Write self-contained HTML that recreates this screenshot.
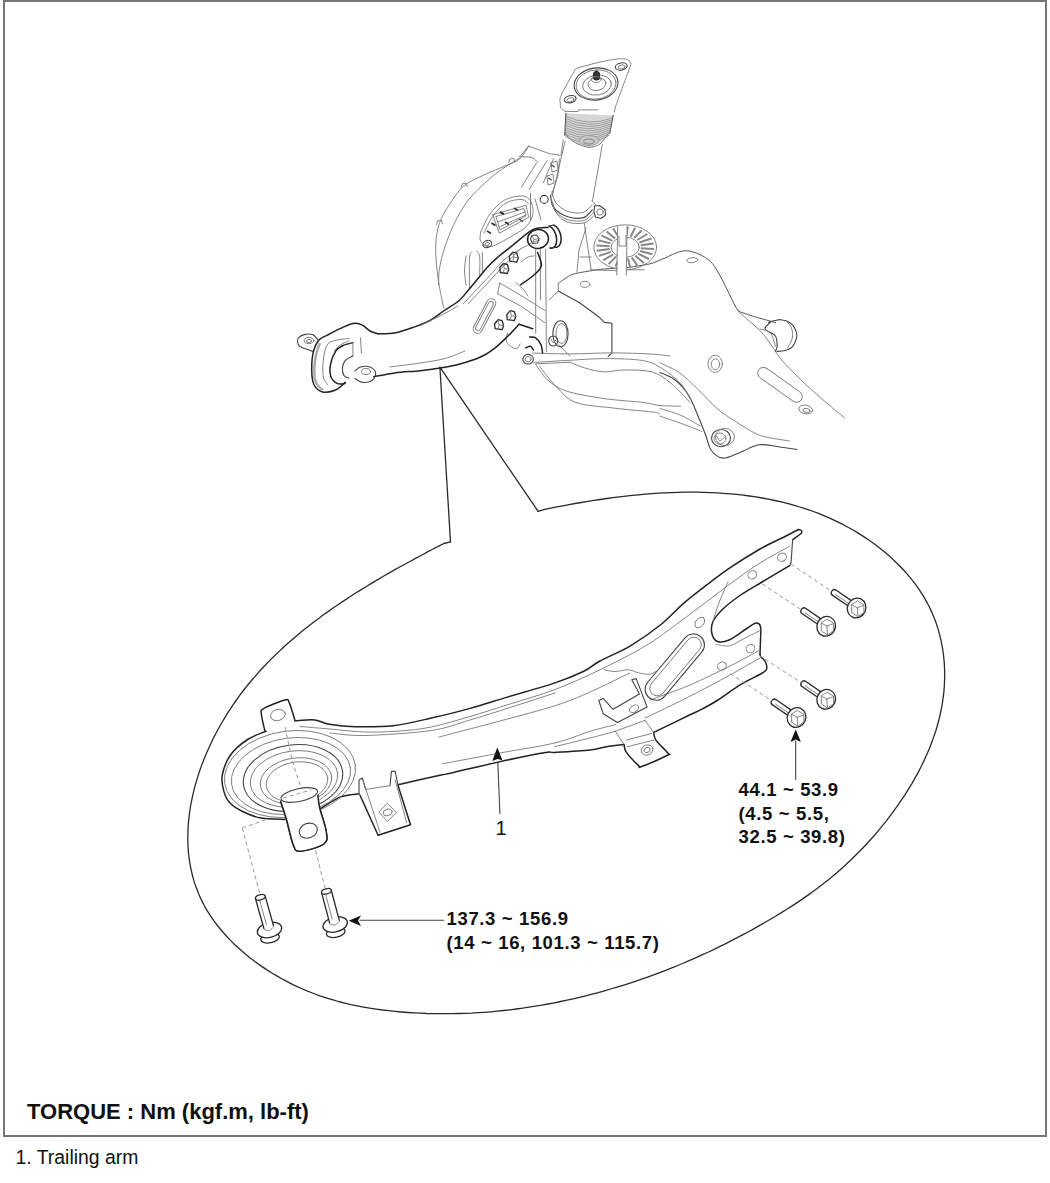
<!DOCTYPE html>
<html><head><meta charset="utf-8">
<style>
html,body{margin:0;padding:0;background:#fff;}
body{width:1050px;height:1183px;position:relative;overflow:hidden;font-family:"Liberation Sans",sans-serif;}
.box{position:absolute;left:3px;top:0;width:1040px;height:1133px;border:2px solid #767676;}
svg{position:absolute;left:0;top:0;}
.k{fill:none;stroke:#2a2a2a;stroke-width:1.3;stroke-linejoin:round;stroke-linecap:round;}
.K{fill:none;stroke:#222;stroke-width:1.5;stroke-linejoin:round;stroke-linecap:round;}
.m{fill:none;stroke:#444;stroke-width:1.1;stroke-linejoin:round;stroke-linecap:round;}
.t{fill:none;stroke:#777;stroke-width:0.9;stroke-linejoin:round;stroke-linecap:round;}
.n{fill:none;stroke:#555;stroke-width:1;stroke-linejoin:round;stroke-linecap:round;}
.d{fill:none;stroke:#999;stroke-width:1;stroke-dasharray:4 3;}
.f{fill:#fff;}
.f2{fill:#fff !important;}
.txt{position:absolute;white-space:nowrap;color:#111;font-weight:bold;}
.reg{font-weight:normal;}
</style></head><body>
<div class="box"></div>
<svg width="1050" height="1183" viewBox="0 0 1050 1183">
<path class="k" d="M450.5,541.9 L443.8,543.5 L438.2,546.4 L432.7,549.3 L427.1,552.2 L421.6,555.2 L416.0,558.1 L410.4,561.2 L404.8,564.2 L399.2,567.3 L393.6,570.4 L388.1,573.6 L382.5,576.8 L376.9,580.1 L371.4,583.4 L365.9,586.7 L360.4,590.1 L354.9,593.5 L349.5,597.0 L344.1,600.6 L338.7,604.2 L333.4,607.8 L328.1,611.6 L322.8,615.3 L317.6,619.2 L312.5,623.1 L307.4,627.1 L302.3,631.1 L297.3,635.2 L292.4,639.4 L287.6,643.6 L282.8,648.0 L278.1,652.4 L273.5,656.8 L268.9,661.4 L264.4,666.0 L260.0,670.8 L255.8,675.6 L251.5,680.5 L247.4,685.5 L243.4,690.5 L239.5,695.7 L235.7,701.0 L232.0,706.3 L228.4,711.8 L225.0,717.3 L221.6,723.0 L218.4,728.7 L215.3,734.5 L212.3,740.4 L209.5,746.4 L206.8,752.4 L204.3,758.5 L201.9,764.6 L199.7,770.7 L197.7,776.9 L195.8,783.2 L194.1,789.4 L192.7,795.7 L191.3,802.0 L190.2,808.3 L189.3,814.6 L188.6,820.8 L188.1,827.1 L187.9,833.4 L187.8,839.6 L188.0,845.8 L188.4,851.9 L189.1,858.0 L190.0,864.1 L191.2,870.1 L192.6,876.0 L194.2,881.9 L196.2,887.6 L198.4,893.3 L200.9,898.9 L203.7,904.5 L206.7,909.9 L210.0,915.2 L213.6,920.4 L217.4,925.5 L221.5,930.5 L225.7,935.3 L230.2,940.1 L234.8,944.7 L239.7,949.1 L244.7,953.5 L249.9,957.7 L255.2,961.7 L260.6,965.6 L266.2,969.4 L271.9,973.0 L277.7,976.4 L283.5,979.7 L289.5,982.8 L295.5,985.8 L301.5,988.5 L307.6,991.1 L313.7,993.5 L319.9,995.8 L326.0,997.8 L332.2,999.7 L338.4,1001.5 L344.7,1003.1 L350.9,1004.6 L357.2,1005.9 L363.5,1007.1 L369.8,1008.2 L376.1,1009.1 L382.5,1010.0 L388.8,1010.7 L395.2,1011.4 L401.5,1012.0 L407.9,1012.5 L414.3,1012.9 L420.6,1013.2 L427.0,1013.5 L433.4,1013.6 L439.8,1013.7 L446.2,1013.7 L452.5,1013.7 L458.9,1013.5 L465.3,1013.3 L471.7,1013.1 L478.1,1012.7 L484.5,1012.3 L490.9,1011.8 L497.2,1011.2 L503.6,1010.5 L510.0,1009.8 L516.4,1009.0 L522.7,1008.2 L529.1,1007.2 L535.4,1006.2 L541.7,1005.2 L548.1,1004.0 L554.4,1002.8 L560.7,1001.5 L567.0,1000.2 L573.3,998.8 L579.6,997.3 L585.8,995.8 L592.1,994.2 L598.3,992.6 L604.5,990.8 L610.7,989.0 L616.9,987.2 L623.1,985.3 L629.2,983.3 L635.4,981.3 L641.5,979.2 L647.6,977.1 L653.7,974.9 L659.7,972.6 L665.8,970.3 L671.8,967.9 L677.8,965.5 L683.7,963.0 L689.7,960.4 L695.6,957.9 L701.5,955.2 L707.4,952.5 L713.2,949.8 L719.0,946.9 L724.8,944.1 L730.5,941.2 L736.3,938.2 L742.0,935.2 L747.6,932.2 L753.3,929.1 L758.9,925.9 L764.4,922.8 L770.0,919.5 L775.5,916.3 L781.0,912.9 L786.4,909.5 L791.8,906.1 L797.1,902.6 L802.4,899.1 L807.6,895.4 L812.7,891.7 L817.8,888.0 L822.9,884.1 L827.8,880.2 L832.7,876.2 L837.6,872.1 L842.3,867.9 L847.0,863.6 L851.6,859.3 L856.1,854.8 L860.6,850.3 L865.0,845.7 L869.3,841.0 L873.6,836.2 L877.8,831.3 L881.9,826.4 L886.0,821.3 L889.9,816.2 L893.8,810.9 L897.6,805.6 L901.3,800.2 L905.0,794.8 L908.5,789.2 L911.9,783.6 L915.1,777.9 L918.3,772.1 L921.3,766.3 L924.1,760.4 L926.8,754.5 L929.4,748.5 L931.7,742.4 L933.9,736.4 L936.0,730.2 L937.8,724.0 L939.4,717.8 L940.8,711.5 L942.0,705.3 L943.0,698.9 L943.8,692.6 L944.3,686.2 L944.6,679.8 L944.7,673.4 L944.5,667.1 L944.1,660.7 L943.4,654.4 L942.5,648.1 L941.3,641.9 L939.9,635.7 L938.2,629.6 L936.3,623.6 L934.1,617.7 L931.7,611.9 L929.0,606.2 L926.0,600.6 L922.8,595.2 L919.3,589.8 L915.7,584.6 L911.8,579.6 L907.7,574.6 L903.4,569.8 L899.0,565.2 L894.4,560.7 L889.6,556.3 L884.7,552.1 L879.6,548.0 L874.4,544.0 L869.1,540.2 L863.7,536.6 L858.2,533.1 L852.7,529.8 L847.0,526.7 L841.3,523.7 L835.5,520.8 L829.7,518.2 L823.8,515.6 L817.9,513.2 L811.9,511.0 L805.8,508.9 L799.7,507.0 L793.5,505.1 L787.4,503.4 L781.1,501.9 L774.8,500.5 L768.5,499.2 L762.2,498.0 L755.8,496.9 L749.4,496.0 L743.0,495.1 L736.5,494.4 L730.1,493.8 L723.6,493.3 L717.1,492.9 L710.6,492.6 L704.0,492.3 L697.5,492.2 L691.0,492.2 L684.4,492.2 L677.9,492.4 L671.3,492.6 L664.8,492.9 L658.3,493.2 L651.7,493.7 L645.2,494.2 L638.7,494.8 L632.3,495.4 L625.8,496.1 L619.4,496.9 L613.0,497.7 L606.6,498.5 L600.2,499.5 L593.9,500.4 L587.6,501.4 L581.4,502.5 L575.1,503.5 L569.0,504.6 L562.9,505.8 L556.8,506.9 L550.8,508.1 L544.8,509.4 L538.1,511.3"/>
<path class="k" d="M450.5,541.9 L439.9,367.2 L538.1,511.3"/>
<path class="K" d="M295.0,720.7 C298.3,720.6 309.3,719.4 315.0,720.0 C320.7,720.6 322.6,723.2 329.3,724.3 C336.0,725.4 344.4,726.5 355.0,726.7 C365.6,726.9 380.4,727.1 393.1,725.7 C405.8,724.3 418.5,721.0 431.2,718.1 C443.9,715.2 456.6,712.1 469.3,708.6 C482.0,705.1 493.1,701.4 507.4,697.1 C521.7,692.8 542.3,687.2 555.0,682.9 C567.7,678.6 576.3,674.9 583.8,671.3 C591.3,667.6 592.2,665.2 600.0,661.0 C607.8,656.8 620.3,651.9 630.5,645.8 C640.7,639.7 652.1,631.6 661.0,624.5 C669.9,617.4 676.2,609.7 683.8,603.1 C691.4,596.5 699.1,590.7 706.7,584.9 C714.3,579.1 720.6,574.1 729.5,568.1 C738.4,562.1 750.8,554.3 760.0,549.0 C769.2,543.7 778.6,539.8 785.0,536.5 C791.4,533.2 796.2,530.7 798.5,529.5"/>
<path class="K" d="M798.5,529.5 C799.0,529.7 801.1,529.8 801.5,530.5 C801.9,531.2 802.5,532.0 801.0,533.5 C799.5,535.0 794.0,538.8 792.6,539.8"/>
<path class="m" d="M792.6,539.8 L791.1,562.6 L789.6,565.7"/>
<path class="K" d="M789.6,565.7 C785.0,568.4 770.3,577.0 762.0,582.0 C753.7,587.0 746.4,591.1 740.0,595.5 C733.6,599.9 728.0,604.2 723.5,608.5 C719.0,612.8 714.9,617.2 713.0,621.5 C711.1,625.8 711.2,630.7 712.0,634.0 C712.8,637.3 714.7,640.5 717.5,641.5 C720.3,642.5 724.2,642.1 729.0,640.0 C733.8,637.9 741.6,631.8 746.0,629.0 C750.4,626.2 753.1,623.6 755.5,623.2 C757.9,622.8 759.7,623.7 760.5,626.5 C761.3,629.3 760.6,635.4 760.5,640.0 C760.4,644.6 760.1,651.7 760.0,654.0"/>
<path class="K" d="M760.0,654.0 C760.2,654.5 760.1,655.8 761.0,657.0 C761.9,658.2 764.2,659.7 765.2,661.5 C766.2,663.3 767.0,665.8 766.7,667.6 C766.5,669.4 768.0,669.4 763.7,672.2 C759.4,675.0 748.5,679.8 740.9,684.4 C733.3,689.0 724.8,695.7 718.0,700.0 C711.2,704.3 704.7,707.7 700.0,710.2 C695.3,712.7 697.7,711.1 690.0,714.8 C682.3,718.5 659.8,729.5 653.7,732.4"/>
<path class="K" d="M624.0,744.5 C621.1,744.9 612.2,745.8 606.5,746.7 C600.8,747.6 598.6,749.0 590.0,750.0 C581.4,751.0 562.4,752.0 555.0,752.4 C547.6,752.8 553.4,751.1 545.5,752.4 C537.6,753.7 523.3,756.5 507.4,760.0 C491.5,763.5 461.4,770.8 450.2,773.3 C439.0,775.8 448.7,773.3 440.0,775.2 C431.3,777.1 405.1,783.2 398.1,784.8"/>
<path class="K" d="M359.0,793.8 C355.8,794.3 346.4,794.6 340.0,797.1 C333.6,799.6 323.9,806.7 320.7,808.6"/>
<path class="t" d="M300.0,726.5 C305.0,726.9 319.2,728.1 330.0,729.0 C340.8,729.9 353.3,731.7 365.0,732.0 C376.7,732.3 389.0,731.8 400.0,731.0 C411.0,730.2 419.5,729.4 431.2,727.0 C442.9,724.6 456.9,720.3 470.0,716.5 C483.1,712.7 495.8,708.5 510.0,704.0 C524.2,699.5 539.9,695.2 555.0,689.5 C570.1,683.8 585.4,676.8 600.5,669.5 C615.6,662.2 633.1,653.3 645.7,645.8 C658.3,638.3 666.0,631.9 676.2,624.5 C686.4,617.1 696.6,609.2 706.7,601.6 C716.9,594.0 728.2,585.2 737.1,578.8 C746.0,572.4 751.2,568.5 760.0,563.0 C768.8,557.5 785.0,548.8 790.0,546.0"/>
<path class="t" d="M330.0,733.0 C335.8,733.4 348.1,735.9 365.0,735.5 C381.9,735.1 413.7,733.1 431.2,730.5 C448.7,727.9 456.9,723.8 470.0,720.0 C483.1,716.2 495.8,712.0 510.0,707.5 C524.2,703.0 547.5,695.4 555.0,693.0"/>
<path class="t" d="M438.8,737.1 C449.0,734.4 480.6,726.2 500.0,721.0 C519.4,715.8 540.0,710.5 555.0,705.7 C570.0,700.9 577.6,697.4 590.0,692.0 C602.4,686.6 623.0,676.2 629.6,673.1"/>
<path class="t" d="M442.6,763.8 C452.2,762.0 481.3,756.5 500.0,753.0 C518.7,749.5 540.0,746.5 555.0,742.9 C570.0,739.3 580.0,734.3 590.0,731.3 C600.0,728.3 611.1,725.8 615.3,724.7"/>
<path class="t" d="M555.0,746.6 C560.8,745.2 580.0,740.5 590.0,738.0 C600.0,735.5 611.1,732.4 615.3,731.3"/>
<path class="t" d="M645.0,718.1 C652.5,714.5 675.8,703.4 690.0,696.2 C704.2,689.0 718.3,681.4 730.0,675.0 C741.7,668.6 755.0,660.8 760.0,658.0"/>
<path class="t" d="M650.0,700.0 C656.7,697.5 676.7,690.7 690.0,685.0 C703.3,679.3 718.3,671.8 730.0,666.0 C741.7,660.2 755.0,652.7 760.0,650.0"/>
<path class="t" d="M604.3,669.8 C606.1,670.1 611.0,671.5 615.0,671.5 C619.0,671.5 624.4,669.5 628.5,669.8 C632.6,670.1 635.9,672.4 639.5,673.1 C643.1,673.8 647.6,674.6 650.4,674.2 C653.1,673.9 655.1,671.5 656.0,671.0"/>
<ellipse class="t" cx="782.0" cy="557.3" rx="4.5" ry="4.0" transform="rotate(-30 782.0 557.3)"/>
<ellipse class="t" cx="752.3" cy="574.8" rx="4.5" ry="4.0" transform="rotate(-30 752.3 574.8)"/>
<ellipse class="t" cx="750.5" cy="648.6" rx="4.5" ry="4.0" transform="rotate(-30 750.5 648.6)"/>
<ellipse class="t" cx="721.9" cy="666.1" rx="4.5" ry="4.0" transform="rotate(-30 721.9 666.1)"/>
<ellipse class="t" cx="699.8" cy="622.5" rx="6.0" ry="4.0" transform="rotate(-50 699.8 622.5)"/>
<path class="t" d="M728.0,581.8 C726.5,585.3 721.4,596.5 718.9,603.1 C716.4,609.7 713.8,618.4 712.8,621.4"/>
<path class="t" d="M715.8,644.3 C718.1,644.5 724.6,646.8 729.5,645.8 C734.4,644.8 739.9,640.5 745.0,638.0 C750.1,635.5 757.5,631.8 760.0,630.6"/>
<rect class="m" x="634.8" y="656.1" width="80.0" height="22.0" rx="11.0" ry="11.0" transform="rotate(-50 674.8 667.1)"/>
<rect class="t" x="639.5" y="659.0" width="72.0" height="15.0" rx="7.5" ry="7.5" transform="rotate(-50 675.5 666.5)"/>
<path class="m" d="M598.8,700.5 L603.2,698.4 L613.1,709.3 L639.5,694.0 L631.8,679.7 L636.2,678.6 L647.1,707.1 L617.5,722.5 L603.2,713.7 L598.8,700.5"/>
<ellipse class="t" cx="634.0" cy="708.8" rx="5.0" ry="3.2" transform="rotate(-30 634.0 708.8)"/>
<path class="K" d="M653.7,732.4 C654.1,733.7 653.5,736.6 655.9,740.1 C658.3,743.6 666.2,750.7 668.0,753.3 C669.8,755.9 671.3,753.3 666.9,755.5 C662.5,757.7 646.4,764.9 641.6,766.5 C636.9,768.1 641.0,767.8 638.4,765.4 C635.8,763.0 628.7,755.7 626.3,752.2 C623.9,748.7 624.4,745.8 624.0,744.5"/>
<path class="t" d="M615.3,731.3 L645.0,720.3"/>
<path class="t" d="M615.3,731.3 L624.0,744.5"/>
<path class="t" d="M645.0,720.3 L653.7,732.4"/>
<path class="t" d="M626.3,740.1 L651.5,733.5"/>
<path class="t" d="M627.4,746.7 L653.7,740.1"/>
<ellipse class="t" cx="647.1" cy="750.0" rx="6.0" ry="5.0" transform="rotate(-20 647.1 750.0)"/>
<ellipse class="t" cx="647.1" cy="750.0" rx="3.2" ry="2.5" transform="rotate(-20 647.1 750.0)"/>
<path class="K" d="M265.0,731.4 C264.4,728.5 261.6,718.1 261.4,714.3 C261.2,710.5 259.7,711.0 263.6,708.6 C267.5,706.2 280.7,701.0 285.0,700.0 C289.3,699.0 287.6,699.4 289.3,702.9 C291.0,706.4 294.1,717.7 295.0,720.7"/>
<ellipse class="t" cx="277.9" cy="715.0" rx="7.5" ry="5.5" transform="rotate(-15 277.9 715.0)"/>
<path class="K" d="M266.0,731.2 C262.9,732.6 253.5,735.6 247.6,739.5 C241.7,743.4 234.9,748.8 230.7,754.7 C226.5,760.6 223.4,768.8 222.3,775.0 C221.2,781.2 222.6,787.1 224.0,791.9 C225.4,796.7 227.3,800.3 230.7,803.7 C234.1,807.1 239.1,809.8 244.2,812.2 C249.3,814.6 254.3,816.9 261.1,818.1 C267.9,819.3 281.0,819.3 285.0,819.5"/>
<ellipse class="t" cx="290.0" cy="774.0" rx="66.0" ry="43.0" transform="rotate(-8 290.0 774.0)"/>
<ellipse class="t" cx="291.0" cy="776.0" rx="60.0" ry="38.0" transform="rotate(-8 291.0 776.0)"/>
<ellipse class="m" cx="293.0" cy="778.0" rx="50.0" ry="33.0" transform="rotate(-8 293.0 778.0)"/>
<ellipse class="t" cx="294.0" cy="779.0" rx="44.0" ry="28.0" transform="rotate(-8 294.0 779.0)"/>
<ellipse class="t" cx="296.0" cy="781.0" rx="36.0" ry="23.0" transform="rotate(-8 296.0 781.0)"/>
<ellipse class="t" cx="297.0" cy="782.0" rx="31.0" ry="20.0" transform="rotate(-8 297.0 782.0)"/>
<path class="K" d="M280.7,801.4 C281.6,804.3 284.2,811.6 286.3,818.7 C288.4,825.8 290.8,838.6 293.0,844.0 C295.2,849.4 294.6,851.3 299.7,851.3 C304.8,851.3 319.3,847.2 323.7,844.0 C328.1,840.8 327.0,838.0 326.3,832.0 C325.6,826.0 321.1,814.0 319.7,808.0 C318.3,802.0 318.2,797.8 317.9,795.7"/>
<path class="f" d="M280.7,801.4 C281.6,804.3 284.2,811.6 286.3,818.7 C288.4,825.8 290.8,838.6 293.0,844.0 C295.2,849.4 294.6,851.3 299.7,851.3 C304.8,851.3 319.3,847.2 323.7,844.0 C328.1,840.8 327.0,838.0 326.3,832.0 C325.6,826.0 321.1,814.0 319.7,808.0 C318.3,802.0 321.3,798.7 317.9,795.7 C314.4,792.7 302.1,791.0 299.0,790.0 Z" />
<path class="K" d="M280.7,801.4 C281.6,804.3 284.2,811.6 286.3,818.7 C288.4,825.8 290.8,838.6 293.0,844.0 C295.2,849.4 294.6,851.3 299.7,851.3 C304.8,851.3 319.3,847.2 323.7,844.0 C328.1,840.8 327.0,838.0 326.3,832.0 C325.6,826.0 321.1,814.0 319.7,808.0 C318.3,802.0 318.2,797.8 317.9,795.7"/>
<ellipse class="m" cx="299.3" cy="795.0" rx="18.6" ry="6.4" transform="rotate(-12 299.3 795.0)"/>
<ellipse class="m" cx="308.3" cy="830.7" rx="9.3" ry="7.3" transform="rotate(-20 308.3 830.7)"/>
<path class="d" d="M285.0,727.0 L292.0,760.0 L300.7,787.0"/>
<path class="d" d="M283.0,798.0 L311.0,790.0"/>
<path class="d" d="M242.3,828.0 L265.0,820.0"/>
<path class="d" d="M242.3,828.0 L259.7,893.3"/>
<path class="d" d="M315.7,850.7 L325.0,888.0"/>
<path class="f" d="M359,779 L362.4,778.1 L365.7,789.5 L390,785.7 L391.4,771.4 L395.2,771.4 L398.1,785.7 L410.5,824.8 L378.1,835.2 L360,795.2 Z"/>
<path class="m" d="M359.0,794.3 L359.0,780.0 L362.4,778.1 L365.7,789.5"/>
<path class="K" d="M360.0,795.2 L378.1,835.2 L410.5,824.8 L398.1,785.7"/>
<path class="m" d="M390.0,785.7 L391.4,771.4 L395.2,771.4 L398.1,785.7"/>
<path class="t" d="M365.7,789.5 L389.5,785.7"/>
<path class="t" d="M362.9,780.0 L380.0,832.4"/>
<path class="t" d="M395.2,780.0 L406.7,822.9"/>
<path class="t" d="M387.6,803.4 L396.2,812.4 L387.6,821.4 L379.0,812.4 Z"/>
<ellipse class="t" cx="387.6" cy="812.4" rx="4.5" ry="3.2" transform="rotate(-15 387.6 812.4)"/>
<ellipse class="k f2" cx="270.0" cy="938.0" rx="9.5" ry="4.8" transform="rotate(-12 270.0 938.0)"/>
<ellipse class="k f2" cx="269.5" cy="930.0" rx="12.4" ry="7.4" transform="rotate(-14 269.5 930.0)"/>
<path class="f" d="M255.5,898.7 L263.9,928.5 L273.5,925.8 L265.1,895.9 Z"/>
<path class="k" d="M255.5,898.7 L263.9,928.5"/>
<path class="k" d="M265.1,895.9 L273.5,925.8"/>
<ellipse class="k f2" cx="260.3" cy="897.3" rx="5.0" ry="2.6" transform="rotate(164.28628815580868 260.3 897.3)"/>
<path class="t" d="M259.7,900.6 L266.4,924.6"/>
<path class="t" d="M273.8,926.7 C273.0,927.4 270.8,930.1 269.2,930.5 C267.6,931.0 265.0,929.6 264.1,929.4"/>
<ellipse class="k f2" cx="335.7" cy="932.5" rx="9.5" ry="4.8" transform="rotate(-12 335.7 932.5)"/>
<ellipse class="k f2" cx="335.2" cy="924.5" rx="12.4" ry="7.4" transform="rotate(-14 335.2 924.5)"/>
<path class="f" d="M321.6,892.6 L329.6,922.9 L339.3,920.3 L331.2,890.0 Z"/>
<path class="k" d="M321.6,892.6 L329.6,922.9"/>
<path class="k" d="M331.2,890.0 L339.3,920.3"/>
<ellipse class="k f2" cx="326.4" cy="891.3" rx="5.0" ry="2.6" transform="rotate(165.1545479179162 326.4 891.3)"/>
<path class="t" d="M325.7,894.6 L332.2,919.1"/>
<path class="t" d="M339.5,921.3 C338.8,921.9 336.6,924.6 334.9,925.0 C333.3,925.5 330.7,924.0 329.9,923.8"/>
<path class="m" d="M360.0,920.2 L443.8,920.2"/>
<path d="M348.7,920.7 L361,915.5 L358,920.5 L361,926 Z" fill="#111"/>
<path class="k f2" d="M850.7,607.7 L832.7,595.4 A3.1,3.1 0 0 1 836.3,590.2 L854.2,602.6"/>
<path class="t" d="M835.7,594.6 L850.4,604.7"/>
<ellipse class="k f2" cx="856.6" cy="608.0" rx="9.2" ry="10.0" transform="rotate(25 856.6 608.0)"/>
<path class="t" d="M857.8,601.0 L863.9,604.9 L863.9,612.7 L857.8,616.6 L851.7,612.7 L851.7,604.9 Z"/>
<path class="t" d="M857.3,607.8 L851.8,604.8"/>
<path class="t" d="M857.3,607.8 L863.8,605.3"/>
<path class="t" d="M857.3,607.8 L857.8,616.3"/>
<path class="k f2" d="M820.3,626.0 L802.3,613.7 A3.1,3.1 0 0 1 805.9,608.5 L823.8,620.9"/>
<path class="t" d="M805.3,612.9 L820.0,623.0"/>
<ellipse class="k f2" cx="826.2" cy="626.3" rx="9.2" ry="10.0" transform="rotate(25 826.2 626.3)"/>
<path class="t" d="M827.4,619.3 L833.5,623.2 L833.5,631.0 L827.4,634.9 L821.3,631.0 L821.3,623.2 Z"/>
<path class="t" d="M826.9,626.1 L821.4,623.1"/>
<path class="t" d="M826.9,626.1 L833.4,623.6"/>
<path class="t" d="M826.9,626.1 L827.4,634.6"/>
<path class="k f2" d="M820.3,699.0 L802.3,686.7 A3.1,3.1 0 0 1 805.9,681.5 L823.8,693.9"/>
<path class="t" d="M805.3,685.9 L820.0,696.0"/>
<ellipse class="k f2" cx="826.2" cy="699.3" rx="9.2" ry="10.0" transform="rotate(25 826.2 699.3)"/>
<path class="t" d="M827.4,692.3 L833.5,696.2 L833.5,704.0 L827.4,707.9 L821.3,704.0 L821.3,696.2 Z"/>
<path class="t" d="M826.9,699.1 L821.4,696.1"/>
<path class="t" d="M826.9,699.1 L833.4,696.6"/>
<path class="t" d="M826.9,699.1 L827.4,707.6"/>
<path class="k f2" d="M790.6,717.2 L772.6,704.9 A3.1,3.1 0 0 1 776.2,699.7 L794.1,712.1"/>
<path class="t" d="M775.6,704.1 L790.3,714.2"/>
<ellipse class="k f2" cx="796.5" cy="717.5" rx="9.2" ry="10.0" transform="rotate(25 796.5 717.5)"/>
<path class="t" d="M797.7,710.5 L803.8,714.4 L803.8,722.2 L797.7,726.1 L791.6,722.2 L791.6,714.4 Z"/>
<path class="t" d="M797.2,717.3 L791.7,714.3"/>
<path class="t" d="M797.2,717.3 L803.7,714.8"/>
<path class="t" d="M797.2,717.3 L797.7,725.8"/>
<path class="d" d="M791.1,564.1 L831.5,591.3"/>
<path class="d" d="M762.2,583.9 L801.1,609.5"/>
<path class="d" d="M759.1,655.4 L801.1,682.5"/>
<path class="d" d="M730.2,673.7 L772.2,700.8"/>
<path class="m" d="M795.7,741.0 L795.7,779.6"/>
<path d="M795.7,729.5 L790.5,742 L795.7,739.5 L800.9,742 Z" fill="#111"/>
<path class="m" d="M497.8,762.0 L499.9,813.5"/>
<path d="M497.3,747.6 L492.3,761.1 L497.6,759 L502.4,760.3 Z" fill="#111"/>
<path class="n" d="M558.3,283.5 C559.6,282.6 563.1,279.7 566.0,278.0 C568.9,276.3 569.3,275.0 575.7,273.5 C582.1,272.0 596.4,269.9 604.3,269.0 C612.2,268.1 616.9,268.6 623.3,268.0 C629.6,267.4 637.6,266.0 642.4,265.2 C647.2,264.4 648.1,264.5 651.9,263.3 C655.7,262.1 660.4,259.9 665.0,258.0 C669.6,256.1 675.1,252.8 679.6,251.7 C684.1,250.6 687.4,250.3 692.3,251.7 C697.2,253.1 704.6,256.3 709.2,260.2 C713.8,264.1 716.2,269.0 719.7,275.0 C723.2,281.0 727.3,290.2 730.3,296.0 C733.3,301.8 735.1,306.9 737.6,309.8 C740.1,312.7 742.0,312.3 745.2,313.6 C748.4,314.9 752.9,316.2 756.7,317.4 C760.5,318.5 764.9,319.6 768.1,320.5 C771.3,321.4 774.4,322.4 775.7,322.8"/>
<path class="t" d="M737.6,310.6 C739.3,312.2 744.4,316.8 748.0,320.0 C751.6,323.2 755.8,326.4 759.0,329.6 C762.2,332.8 764.5,335.7 767.0,339.0 C769.5,342.3 771.7,345.9 774.2,349.4 C776.7,352.9 777.5,355.1 781.8,360.0 C786.1,364.9 793.3,372.5 800.0,379.0 C806.7,385.5 814.5,392.5 822.0,399.0 C829.5,405.5 841.0,414.9 844.8,418.1"/>
<path class="m" d="M768.6,322.3 C769.7,322.0 773.0,320.9 775.0,320.5 C777.0,320.1 778.4,319.5 780.6,319.7 C782.8,319.9 785.7,320.2 788.0,321.5 C790.3,322.8 792.8,325.0 794.3,327.4 C795.8,329.8 796.9,333.3 796.9,336.0 C796.9,338.7 795.5,341.5 794.5,343.5 C793.5,345.5 792.6,346.8 790.9,348.0 C789.1,349.2 786.3,350.2 784.0,350.8 C781.7,351.4 778.2,351.3 777.1,351.4"/>
<path class="t" d="M787.4,322.3 C788.1,323.2 790.6,325.7 791.5,328.0 C792.4,330.3 792.8,333.5 792.6,336.0 C792.4,338.5 791.4,341.0 790.5,343.0 C789.6,345.0 787.9,347.2 787.4,348.0"/>
<path class="m" d="M770.3,322.3 C769.4,323.4 764.2,326.8 765.1,329.1 C766.0,331.4 773.4,333.1 775.4,336.0 C777.4,338.9 777.1,343.7 777.1,346.3 C777.1,348.9 775.7,350.5 775.4,351.4"/>
<path class="t" d="M760.0,329.1 C761.7,329.7 767.7,329.7 770.3,332.6 C772.9,335.5 774.5,344.0 775.4,346.3"/>
<rect class="t" x="754.0" y="379.1" width="52.0" height="11.5" rx="5.8" ry="5.8" transform="rotate(35.4 780.0 384.8)"/>
<ellipse class="t" cx="715.2" cy="363.8" rx="7.2" ry="8.6" transform="rotate(0 715.2 363.8)"/>
<ellipse class="t" cx="715.5" cy="364.3" rx="4.2" ry="5.5" transform="rotate(0 715.5 364.3)"/>
<ellipse class="t" cx="805.7" cy="409.5" rx="7.0" ry="4.3" transform="rotate(10 805.7 409.5)"/>
<ellipse class="t" cx="806.5" cy="410.5" rx="3.5" ry="2.0" transform="rotate(10 806.5 410.5)"/>
<ellipse class="t" cx="692.3" cy="260.2" rx="5.5" ry="2.5" transform="rotate(-5 692.3 260.2)"/>
<ellipse class="m" cx="721.0" cy="438.1" rx="9.5" ry="8.6" transform="rotate(0 721.0 438.1)"/>
<ellipse class="t" cx="720.0" cy="438.5" rx="6.0" ry="5.5" transform="rotate(0 720.0 438.5)"/>
<ellipse class="t" cx="725.0" cy="437.0" rx="9.5" ry="8.6" transform="rotate(0 725.0 437.0)"/>
<path class="t" d="M716.0,436.0 L720.0,441.0 L725.0,437.0"/>
<path class="t" d="M660.0,362.9 C663.2,364.5 672.6,368.0 679.0,372.4 C685.4,376.8 691.8,383.5 698.1,389.5 C704.5,395.5 710.8,403.2 717.1,408.6 C723.5,414.0 729.9,417.8 736.2,421.9 C742.6,426.0 750.1,430.8 755.2,433.3 C760.3,435.8 761.0,435.8 766.7,437.1 C772.4,438.4 785.7,440.4 789.5,441.0"/>
<path class="m" d="M660.0,372.4 C662.5,373.7 670.4,376.2 675.2,380.0 C680.0,383.8 684.8,389.2 688.6,395.2 C692.4,401.2 695.2,409.5 698.1,416.2 C701.0,422.9 703.5,429.5 705.7,435.2 C707.9,440.9 708.5,446.7 711.4,450.5 C714.3,454.3 718.1,457.8 722.9,458.1 C727.7,458.4 734.0,454.6 740.0,452.4 C746.0,450.2 752.6,445.8 759.0,444.8 C765.4,443.9 771.8,445.9 778.1,446.7 C784.5,447.5 793.9,449.0 797.1,449.5"/>
<path class="t" d="M660.0,408.6 C663.3,409.7 673.3,412.1 680.0,415.0 C686.7,417.9 696.7,423.9 700.0,425.7"/>
<path class="t" d="M660.0,416.2 C663.3,417.3 673.0,420.5 680.0,423.0 C687.0,425.5 698.2,430.0 701.9,431.4"/>
<path class="t" d="M533.8,362.4 C539.2,362.1 554.5,361.1 566.2,360.5 C578.0,359.9 591.6,358.6 604.3,358.6 C617.0,358.6 632.9,358.9 642.4,360.5 C651.9,362.1 655.0,364.3 661.4,368.1 C667.8,371.9 675.7,378.2 680.5,383.3 C685.3,388.4 688.4,396.1 690.0,398.6"/>
<path class="t" d="M570.0,362.4 C572.5,363.3 579.5,366.5 585.2,368.1 C590.9,369.7 597.9,371.6 604.3,371.9 C610.6,372.2 615.4,370.0 623.3,370.0 C631.2,370.0 643.9,369.7 651.9,371.9 C659.9,374.1 664.6,378.2 671.0,383.3 C677.4,388.4 686.8,399.2 690.0,402.4"/>
<path class="t" d="M535.7,364.3 C537.6,366.8 542.0,375.1 547.1,379.5 C552.2,383.9 556.7,387.8 566.2,391.0 C575.7,394.2 591.6,396.7 604.3,398.6 C617.0,400.5 633.1,401.2 642.4,402.4 C651.7,403.5 653.6,404.9 660.0,405.5 C666.4,406.1 677.1,406.1 680.5,406.2"/>
<path class="t" d="M539.5,366.2 C542.4,369.7 550.7,381.1 556.7,387.1 C562.7,393.1 566.2,398.9 575.7,402.4 C585.2,405.9 601.1,406.5 613.8,408.1 C626.5,409.7 644.2,410.9 651.9,411.9 C659.6,412.9 658.6,413.6 660.0,414.0"/>
<path class="m" d="M558.3,291.0 L580.0,303.0 L598.6,316.7 L604.3,322.4 L611.9,323.3 L611.9,352.9 L608.1,356.7"/>
<path class="t" d="M549.1,300.1 L558.3,291.0 L558.3,283.5"/>
<path class="t" d="M532.7,353.1 C538.9,353.2 556.8,353.9 570.0,353.9 C583.2,353.9 598.6,352.9 611.9,352.9 C625.2,352.9 640.3,353.5 650.0,354.0 C659.7,354.5 666.7,355.7 670.0,356.0"/>
<path class="t" d="M535.7,363.8 L570.0,362.3"/>
<path class="K" d="M519.0,324.2 L532.7,328.8"/>
<path class="t" d="M558.6,344.8 C559.5,345.7 562.1,348.1 564.0,350.0 C565.9,351.9 569.0,355.2 570.0,356.2"/>
<ellipse class="m" cx="560.5" cy="333.8" rx="7.6" ry="13.0" transform="rotate(0 560.5 333.8)"/>
<ellipse class="t" cx="561.5" cy="333.5" rx="5.5" ry="10.0" transform="rotate(0 561.5 333.5)"/>
<ellipse class="m" cx="553.2" cy="341.0" rx="4.5" ry="5.0" transform="rotate(0 553.2 341.0)"/>
<path class="t" d="M551.0,339.0 L553.0,343.0 L556.0,340.0"/>
<path class="K" d="M529.6,337.1 C530.6,337.2 533.8,336.6 535.7,337.9 C537.6,339.2 539.9,342.3 541.0,344.8 C542.1,347.3 542.3,351.7 542.6,353.1"/>
<path class="K" d="M525.8,347.8 C526.6,347.6 529.1,345.9 530.4,346.3 C531.7,346.7 532.9,349.5 533.4,350.1"/>
<ellipse class="m" cx="528.1" cy="359.2" rx="5.3" ry="4.8" transform="rotate(0 528.1 359.2)"/>
<ellipse class="t" cx="528.1" cy="359.2" rx="3.0" ry="2.7" transform="rotate(0 528.1 359.2)"/>
<path class="t" d="M507.5,333.3 C507.2,334.4 505.6,337.9 506.0,340.0 C506.4,342.1 508.2,344.6 510.0,346.0 C511.8,347.4 515.0,348.9 516.7,348.6 C518.4,348.3 519.5,344.8 520.0,344.0"/>
<ellipse class="t" cx="625.2" cy="247.2" rx="31.4" ry="22.4" transform="rotate(0 625.2 247.2)"/>
<path d="M640.8,248.2 L654.0,249.0" stroke="#888" stroke-width="2" fill="none"/>
<path d="M640.0,251.0 L652.3,254.2" stroke="#888" stroke-width="2" fill="none"/>
<path d="M638.1,253.6 L648.9,259.0" stroke="#888" stroke-width="2" fill="none"/>
<path d="M635.3,255.8 L643.8,263.0" stroke="#888" stroke-width="2" fill="none"/>
<path d="M631.8,257.4 L637.4,265.9" stroke="#888" stroke-width="2" fill="none"/>
<path d="M627.9,258.2 L630.2,267.5" stroke="#888" stroke-width="2" fill="none"/>
<path d="M623.8,258.4 L622.7,267.7" stroke="#888" stroke-width="2" fill="none"/>
<path d="M619.8,257.7 L615.3,266.6" stroke="#888" stroke-width="2" fill="none"/>
<path d="M616.2,256.4 L608.6,264.1" stroke="#888" stroke-width="2" fill="none"/>
<path d="M613.2,254.4 L603.1,260.4" stroke="#888" stroke-width="2" fill="none"/>
<path d="M611.0,251.9 L599.0,255.9" stroke="#888" stroke-width="2" fill="none"/>
<path d="M609.7,249.1 L596.8,250.8" stroke="#888" stroke-width="2" fill="none"/>
<path d="M609.6,246.2 L596.4,245.4" stroke="#888" stroke-width="2" fill="none"/>
<path d="M610.4,243.4 L598.1,240.2" stroke="#888" stroke-width="2" fill="none"/>
<path d="M612.3,240.8 L601.5,235.4" stroke="#888" stroke-width="2" fill="none"/>
<path d="M615.1,238.6 L606.6,231.4" stroke="#888" stroke-width="2" fill="none"/>
<path d="M618.6,237.0 L613.0,228.5" stroke="#888" stroke-width="2" fill="none"/>
<path d="M622.5,236.2 L620.2,226.9" stroke="#888" stroke-width="2" fill="none"/>
<path d="M626.6,236.0 L627.7,226.7" stroke="#888" stroke-width="2" fill="none"/>
<path d="M630.6,236.7 L635.1,227.8" stroke="#888" stroke-width="2" fill="none"/>
<path d="M634.2,238.0 L641.8,230.3" stroke="#888" stroke-width="2" fill="none"/>
<path d="M637.2,240.0 L647.3,234.0" stroke="#888" stroke-width="2" fill="none"/>
<path d="M639.4,242.5 L651.4,238.5" stroke="#888" stroke-width="2" fill="none"/>
<path d="M640.7,245.3 L653.6,243.6" stroke="#888" stroke-width="2" fill="none"/>
<ellipse class="t" cx="625.2" cy="247.2" rx="14.1" ry="10.1" transform="rotate(0 625.2 247.2)"/>
<rect class="f" x="617.5" y="226" width="9.5" height="50"/>
<path class="t" d="M617.7,226.1 L616.8,275.0"/>
<path class="t" d="M627.1,226.1 L626.3,275.0"/>
<path class="t" d="M619.0,236.0 L619.0,246.0 L626.0,246.0 L626.0,236.0"/>
<path class="t" d="M584.3,223.6 L591.1,269.8"/>
<path class="t" d="M580.0,257.0 L591.1,257.0"/>
<path class="t" d="M591.1,269.8 L616.8,270.7"/>
<path class="t" d="M628.0,269.8 L644.3,269.8"/>
<path class="t" d="M577.0,272.0 L579.0,250.0 L586.0,228.0"/>
<ellipse class="t" cx="585.2" cy="284.3" rx="4.8" ry="3.0" transform="rotate(0 585.2 284.3)"/>
<path class="t" d="M565.7,111.4 C564.9,110.9 562.0,109.8 561.1,108.4 C560.2,107.0 560.4,104.8 560.3,103.0 C560.2,101.2 559.3,100.5 560.3,97.7 C561.2,94.9 563.7,90.3 566.0,86.0 C568.3,81.7 572.0,74.8 574.0,71.8 C576.0,68.8 573.4,69.7 577.9,68.0 C582.4,66.3 594.4,63.4 600.7,61.9 C607.1,60.4 612.2,59.7 616.0,59.2 C619.8,58.7 621.5,58.8 623.6,58.9 C625.7,59.0 627.4,59.2 628.5,60.0 C629.6,60.8 630.1,62.4 630.4,63.4 C630.7,64.3 631.6,61.9 630.4,65.7 C629.2,69.5 625.4,79.4 623.0,86.0 C620.6,92.6 617.4,101.0 616.0,105.3 C614.6,109.6 614.7,110.9 614.4,112.0"/>
<path class="t" d="M577.9,109.9 L597.7,109.9"/>
<path class="t" d="M565.7,111.4 L578.0,111.5"/>
<ellipse class="m" cx="596.1" cy="84.0" rx="22.0" ry="16.0" transform="rotate(-8 596.1 84.0)"/>
<ellipse class="t" cx="596.1" cy="84.5" rx="20.0" ry="14.5" transform="rotate(-8 596.1 84.5)"/>
<ellipse class="t" cx="597.0" cy="85.0" rx="14.5" ry="10.0" transform="rotate(-8 597.0 85.0)"/>
<ellipse class="t" cx="597.0" cy="84.0" rx="9.0" ry="6.5" transform="rotate(-8 597.0 84.0)"/>
<ellipse class="m" cx="570.2" cy="99.2" rx="6.0" ry="3.5" transform="rotate(-12 570.2 99.2)"/>
<ellipse class="t" cx="570.5" cy="99.8" rx="3.5" ry="2.0" transform="rotate(-12 570.5 99.8)"/>
<ellipse class="m" cx="621.3" cy="66.5" rx="6.0" ry="3.5" transform="rotate(-12 621.3 66.5)"/>
<ellipse class="t" cx="621.5" cy="67.0" rx="3.5" ry="2.0" transform="rotate(-12 621.5 67.0)"/>
<path d="M593.5,79 L593.5,73 Q596.5,68.5 599.5,73 L599.5,79 Q596.5,81.5 593.5,79 Z" fill="#333" stroke="#222" stroke-width="0.8"/>
<ellipse class="t" cx="596.3" cy="79.5" rx="5.0" ry="3.0" transform="rotate(0 596.3 79.5)"/>
<path d="M565.9,113.2 L613.1,115.4 L609.8,133 Q600,146 589,147.3 Q576,146.5 564.8,135.2 Z" fill="#d6d6d6" stroke="none"/>
<path class="m" d="M565.9,113.2 L564.8,135.2"/>
<path class="m" d="M613.1,115.4 L609.8,133.0"/>
<g stroke="#999" stroke-width="0.9" fill="none"><path d="M565.5,116.0 Q588.0,127.0 612.5,118.0"/><path d="M565.5,118.3 Q588.0,129.4 612.2,119.9"/><path d="M565.4,120.6 Q588.0,131.8 611.9,121.8"/><path d="M565.4,122.9 Q588.0,134.2 611.6,123.7"/><path d="M565.3,125.2 Q588.0,136.6 611.3,125.6"/><path d="M565.2,127.5 Q588.0,139.0 611.0,127.5"/><path d="M565.2,129.8 Q588.0,141.4 610.7,129.4"/><path d="M565.1,132.1 Q588.0,143.8 610.4,131.3"/><path d="M565.1,134.4 Q588.0,146.2 610.1,133.2"/><path d="M565.0,136.7 Q588.0,148.6 609.8,135.1"/></g>
<ellipse cx="589" cy="140.5" rx="10" ry="5" fill="#c8c8c8" stroke="#999" stroke-width="0.8"/>
<ellipse class="t" cx="589.0" cy="141.5" rx="5.5" ry="2.5" transform="rotate(0 589.0 141.5)"/>
<path class="t" d="M564.8,133.0 C565.7,134.0 567.8,137.2 570.0,139.0 C572.2,140.8 574.8,142.6 578.0,144.0 C581.2,145.4 585.3,147.3 589.0,147.3 C592.7,147.3 596.7,146.4 600.0,144.0 C603.3,141.6 607.2,134.8 608.7,133.0"/>
<path class="t" d="M565.1,141.3 L552.2,196.1"/>
<path class="t" d="M602.4,144.3 L592.5,200.7"/>
<path class="m" d="M550.5,195.6 C551.0,197.6 551.0,204.2 553.8,207.7 C556.5,211.2 562.0,214.8 567.0,216.5 C572.0,218.2 579.3,218.7 583.5,217.6 C587.7,216.5 590.8,211.2 592.3,209.9"/>
<path class="t" d="M551.5,199.0 C552.1,200.9 552.4,207.1 555.0,210.5 C557.6,213.9 562.2,217.8 567.0,219.5 C571.8,221.2 579.7,221.6 584.0,220.5 C588.3,219.4 591.5,214.2 593.0,213.0"/>
<path class="t" d="M552.0,191.5 C552.7,193.4 553.3,199.7 556.0,203.0 C558.7,206.3 563.5,209.9 568.0,211.5 C572.5,213.1 579.0,213.6 583.0,212.5 C587.0,211.4 590.5,206.2 592.0,205.0"/>
<path class="t" d="M552.8,202.5 C553.4,204.3 554.1,210.2 556.5,213.5 C558.9,216.8 562.4,220.4 567.0,222.0 C571.6,223.6 579.6,224.0 584.0,223.0 C588.4,222.0 591.9,217.2 593.5,216.0"/>
<path class="m" d="M594.5,206.0 L599.5,205.5 L605.0,209.5 L605.5,215.0 L601.0,218.5 L595.5,217.0 L594.0,212.0 L594.5,206.0"/>
<ellipse class="t" cx="600.0" cy="212.0" rx="3.2" ry="3.2" transform="rotate(0 600.0 212.0)"/>
<path class="t" d="M592.0,200.7 L596.0,205.0"/>
<path class="t" d="M529.0,145.7 C527.4,147.9 523.5,155.6 519.5,159.0 C515.5,162.4 510.7,163.4 505.0,166.0 C499.3,168.6 492.2,171.1 485.3,174.4 C478.4,177.7 469.8,180.9 463.8,185.9 C457.8,190.9 453.5,198.4 449.4,204.6 C445.3,210.8 441.7,216.8 439.4,223.3 C437.1,229.8 436.3,236.5 435.8,243.4 C435.3,250.3 435.9,257.8 436.5,265.0 C437.1,272.2 438.2,279.3 439.4,286.5 C440.6,293.7 443.0,304.4 443.7,308.0"/>
<path class="t" d="M519.5,158.0 C517.1,159.5 510.0,163.8 505.0,167.2 C500.0,170.6 495.8,173.2 489.7,178.7 C483.6,184.2 474.1,192.6 468.1,200.3 C462.1,208.0 457.8,216.3 453.7,224.7 C449.6,233.1 446.1,243.2 443.7,250.6 C441.3,258.0 440.3,263.6 439.4,269.3 C438.5,275.0 438.6,282.4 438.5,285.0"/>
<path class="t" d="M461.3,187.2 L462.3,183.7 L466.3,183.2 L467.3,186.7"/>
<path class="t" d="M436.5,224.4 L437.5,220.9 L441.5,220.4 L442.5,223.9"/>
<path class="t" d="M508.9,162.5 L509.9,159.0 L513.9,158.5 L514.9,162.0"/>
<path class="t" d="M519.8,156.8 L528.2,146.1 L549.5,153.7 L560.2,155.2"/>
<path class="t" d="M519.8,156.8 C521.8,156.9 529.1,156.6 532.0,157.5 C534.9,158.4 536.4,161.3 537.3,162.1"/>
<path class="t" d="M536.6,162.9 L521.3,187.2"/>
<path class="t" d="M547.2,160.6 L529.0,189.5"/>
<path class="t" d="M553.3,159.0 L543.4,182.7"/>
<path class="t" d="M559.4,159.0 C559.1,161.7 558.9,169.9 557.9,175.0 C556.9,180.1 554.6,185.8 553.3,189.5 C552.0,193.2 550.8,195.8 550.3,197.1"/>
<path class="t" d="M563.2,140.0 L561.0,155.2"/>
<path class="t" d="M551.0,163.0 L557.0,161.0 L558.0,170.0 L552.0,172.0 L551.0,163.0"/>
<path class="t" d="M547.0,176.0 L553.0,174.0 L554.0,183.0 L548.0,185.0 L547.0,176.0"/>
<path class="m" d="M551.5,165.0 L554.5,167.0"/>
<path class="m" d="M548.5,178.0 L551.5,180.0"/>
<ellipse class="m" cx="544.2" cy="199.4" rx="4.0" ry="4.0" transform="rotate(0 544.2 199.4)"/>
<path class="t" d="M530.5,193.3 L530.5,220.0"/>
<path class="t" d="M535.0,198.7 L541.0,220.0"/>
<path class="t" d="M480.7,232.0 C482.2,229.0 486.0,219.3 490.0,214.0 C494.0,208.7 499.1,203.0 504.7,200.0 C510.2,197.0 518.9,195.6 523.3,196.0 C527.7,196.4 529.7,199.6 531.3,202.7 C532.9,205.8 533.6,210.7 532.7,214.7 C531.8,218.7 530.2,222.7 526.0,226.7 C521.8,230.7 513.3,235.4 507.3,238.7 C501.3,242.0 494.4,246.3 490.0,246.7 C485.6,247.1 482.2,243.8 480.7,241.3 C479.1,238.9 480.7,233.6 480.7,232.0"/>
<path class="t" d="M484.0,233.0 C485.5,230.2 489.3,221.0 493.0,216.0 C496.7,211.0 501.2,205.8 506.0,203.0 C510.8,200.2 518.2,199.3 522.0,199.5 C525.8,199.7 527.4,203.2 528.5,204.0"/>
<path class="t" d="M492.7,214.7 L526.0,205.3 L528.7,217.3 L499.3,233.3 L492.7,214.7"/>
<path class="t" d="M496.0,216.5 L524.0,208.5 L526.0,216.0 L500.0,230.0 L496.0,216.5"/>
<path class="t" d="M498.0,222.0 L525.0,212.0"/>
<path class="t" d="M500.0,226.5 L526.0,215.0"/>
<path d="M500.0,211.9 L504.0,214.4" stroke="#333" stroke-width="2.2" fill="none"/>
<path d="M491.5,223.0 L495.5,225.5" stroke="#333" stroke-width="2.0" fill="none"/>
<path d="M514.0,208.0 L518.0,210.5" stroke="#333" stroke-width="1.6" fill="none"/>
<path d="M505.0,222.0 L509.0,224.5" stroke="#333" stroke-width="1.6" fill="none"/>
<path d="M519.0,219.0 L523.0,221.5" stroke="#333" stroke-width="1.4" fill="none"/>
<path d="M487.0,231.0 L491.0,233.5" stroke="#333" stroke-width="1.6" fill="none"/>
<ellipse class="m" cx="487.3" cy="244.0" rx="4.5" ry="3.5" transform="rotate(-20 487.3 244.0)"/>
<ellipse class="t" cx="487.3" cy="244.0" rx="2.2" ry="1.6" transform="rotate(-20 487.3 244.0)"/>
<path class="t" d="M472.0,252.0 C471.6,253.0 469.9,252.0 469.5,258.0 C469.1,264.0 469.5,283.0 469.5,288.0"/>
<path class="t" d="M476.0,251.0 C476.6,251.8 479.0,251.8 479.6,256.0 C480.2,260.2 479.6,273.0 479.6,276.4"/>
<path class="t" d="M482.4,252.4 L482.4,273.3"/>
<path class="t" d="M466.0,256.0 C465.8,258.3 464.5,265.2 464.5,270.0 C464.5,274.8 465.8,282.5 466.0,285.0"/>
<path class="K" d="M377.6,333.8 C380.5,333.6 388.8,334.0 394.8,332.9 C400.8,331.8 407.9,329.2 413.8,327.1 C419.7,325.0 424.9,323.3 430.0,320.5 C435.1,317.7 439.5,313.8 444.3,310.5 C449.1,307.2 454.6,304.3 458.6,301.0 C462.6,297.7 464.9,294.2 468.1,290.5 C471.3,286.8 474.4,282.8 477.6,279.0 C480.8,275.2 483.9,271.1 487.1,267.6 C490.3,264.1 492.7,261.6 496.7,258.1 C500.7,254.6 505.4,251.1 511.0,246.7 C516.5,242.2 525.4,234.5 530.0,231.4 C534.6,228.3 535.6,228.6 538.6,228.0 C541.6,227.4 546.4,227.7 548.0,227.6"/>
<path class="t" d="M463.3,303.8 C465.7,301.3 472.8,293.7 477.6,288.6 C482.4,283.5 487.1,278.4 491.9,273.3 C496.7,268.2 499.8,263.0 506.2,258.1 C512.5,253.2 524.4,246.8 530.0,243.8 C535.6,240.8 538.3,240.6 540.0,240.0"/>
<path class="t" d="M468.1,303.8 C470.5,301.3 477.6,293.7 482.4,288.6 C487.2,283.5 490.3,280.0 496.7,273.3 C503.1,266.6 516.5,252.7 520.5,248.6"/>
<path class="t" d="M420.0,325.5 C423.3,323.9 433.7,319.2 440.0,316.0 C446.3,312.8 455.0,307.7 458.0,306.0"/>
<path class="K" d="M373.8,376.7 C377.3,376.1 387.1,373.9 394.8,372.9 C402.5,371.9 412.5,371.5 420.0,370.7 C427.5,369.9 433.3,369.1 440.0,368.0 C446.7,366.9 453.3,365.8 460.0,364.0 C466.7,362.2 474.4,359.8 480.0,357.3 C485.6,354.9 488.9,352.6 493.3,349.3 C497.8,346.0 502.4,341.5 506.7,337.3 C511.0,333.1 517.0,326.4 519.0,324.2"/>
<path class="t" d="M390.0,367.0 C395.0,366.3 410.8,364.4 420.0,363.0 C429.2,361.6 437.5,360.5 445.0,358.5 C452.5,356.5 461.7,352.2 465.0,351.0"/>
<rect class="t" x="465.5" y="311.5" width="38.0" height="9.0" rx="4.5" ry="4.5" transform="rotate(-62 484.5 316.0)"/>
<rect class="t" x="468.5" y="313.5" width="32.0" height="5.0" rx="2.5" ry="2.5" transform="rotate(-62 484.5 316.0)"/>
<path class="t" d="M499.9,283.0 L524.3,297.5 L544.9,310.5"/>
<path class="t" d="M497.6,293.7 L520.5,305.9 L544.9,322.7"/>
<path class="t" d="M499.9,283.0 L497.6,293.7"/>
<path class="t" d="M535.7,249.0 L535.7,333.3"/>
<path class="t" d="M540.3,249.0 L540.5,300.0"/>
<path class="t" d="M545.6,249.0 L546.4,351.6"/>
<path class="k" d="M507.3,319.6 L506.8,314.6 L510.3,310.6 L514.3,311.6 L515.8,316.6 L514.3,320.6 L507.3,319.6"/>
<path class="t" d="M510.3,310.6 L511.3,315.6 L515.8,316.6"/>
<path class="t" d="M511.3,315.6 L510.3,320.1"/>
<path class="k" d="M495.1,328.7 L494.6,323.7 L498.1,319.7 L502.1,320.7 L503.6,325.7 L502.1,329.7 L495.1,328.7"/>
<path class="t" d="M498.1,319.7 L499.1,324.7 L503.6,325.7"/>
<path class="t" d="M499.1,324.7 L498.1,329.2"/>
<path class="k" d="M509.8,261.1 L509.3,256.1 L512.8,252.1 L516.8,253.1 L518.3,258.1 L516.8,262.1 L509.8,261.1"/>
<path class="t" d="M512.8,252.1 L513.8,257.1 L518.3,258.1"/>
<path class="t" d="M513.8,257.1 L512.8,261.6"/>
<path class="k" d="M500.3,272.5 L499.8,267.5 L503.3,263.5 L507.3,264.5 L508.8,269.5 L507.3,273.5 L500.3,272.5"/>
<path class="t" d="M503.3,263.5 L504.3,268.5 L508.8,269.5"/>
<path class="t" d="M504.3,268.5 L503.3,273.0"/>
<ellipse class="K" cx="538.0" cy="239.0" rx="10.5" ry="9.5" transform="rotate(-10 538.0 239.0)"/>
<path class="K" d="M549,226 A6.5,11 -15 0 1 550,248"/>
<path class="K" d="M553.5,225 A6.5,11 -15 0 1 554.5,247"/>
<path class="m" d="M549.0,226.0 L553.5,225.0"/>
<path class="m" d="M550.0,248.0 L554.5,247.0"/>
<path class="m" d="M530.5,239.0 L532.0,235.5 L536.5,235.0 L539.0,238.5 L537.5,243.0 L532.5,243.5 L530.5,239.0"/>
<path class="t" d="M532.0,235.5 L534.0,239.5 L539.0,238.5"/>
<path class="t" d="M534.0,239.5 L532.5,243.5"/>
<path class="K" d="M537.6,252.4 C538.2,254.6 542.0,261.9 541.4,265.7 C540.8,269.5 537.3,272.0 533.8,275.2 C530.3,278.4 522.7,283.2 520.5,284.8"/>
<path class="t" d="M521.0,262.0 C522.2,261.2 525.8,258.0 528.0,257.0 C530.2,256.0 533.0,256.2 534.0,256.0"/>
<path class="t" d="M516.0,283.0 C517.3,284.2 522.0,287.8 524.0,290.0 C526.0,292.2 527.3,295.0 528.0,296.0"/>
<path class="K" d="M377.6,333.8 C376.3,333.3 372.5,332.4 370.0,331.0 C367.5,329.6 364.9,326.5 362.4,325.2 C359.9,323.9 358.0,323.0 354.8,323.3 C351.6,323.6 347.8,325.2 343.3,327.1 C338.8,329.0 332.1,332.6 328.0,334.8 C323.9,337.0 321.1,337.3 318.6,340.5 C316.1,343.7 314.0,348.1 312.9,353.8 C311.8,359.5 311.6,369.4 311.9,374.8 C312.2,380.2 313.1,383.4 314.8,386.2 C316.6,389.0 318.9,391.3 322.4,391.9 C325.9,392.5 331.9,391.6 335.7,390.0 C339.5,388.4 343.6,383.7 345.2,382.4"/>
<path class="m" d="M318.6,340.5 C317.7,339.6 315.1,335.8 312.9,334.8 C310.7,333.8 307.6,333.9 305.2,334.4 C302.8,334.9 299.9,336.4 298.6,337.6 C297.3,338.8 297.5,340.1 297.6,341.5 C297.8,342.9 297.6,344.8 299.5,346.2 C301.4,347.6 306.8,349.1 309.0,350.0 C311.2,350.9 312.3,351.2 313.0,351.5"/>
<ellipse class="t" cx="309.0" cy="340.5" rx="4.8" ry="3.2" transform="rotate(0 309.0 340.5)"/>
<ellipse class="t" cx="309.0" cy="341.0" rx="2.5" ry="1.6" transform="rotate(0 309.0 341.0)"/>
<path class="m" d="M354.8,371.0 C355.8,370.3 358.0,367.7 360.5,367.0 C363.0,366.3 367.5,366.0 370.0,367.0 C372.5,368.0 375.4,370.6 375.7,372.9 C376.0,375.1 374.1,378.9 371.9,380.5 C369.7,382.1 365.2,382.7 362.4,382.4 C359.5,382.1 356.1,379.2 354.8,378.6"/>
<ellipse class="t" cx="366.0" cy="371.5" rx="4.5" ry="3.0" transform="rotate(0 366.0 371.5)"/>
<path d="M320,343 Q313,358 314.5,378 Q317,387 323,390" stroke="#aaa" stroke-width="2.5" fill="none"/>
<path class="t" d="M349.0,338.5 C346.7,338.8 338.6,339.4 335.0,340.5 C331.4,341.6 329.1,341.8 327.1,345.0 C325.2,348.2 323.9,354.7 323.3,360.0 C322.7,365.3 322.5,372.7 323.3,376.9 C324.1,381.1 327.2,383.6 328.0,385.0"/>
<path class="K" d="M352.9,342.6 C351.2,343.1 345.9,344.1 343.0,345.5 C340.1,346.9 337.8,348.0 335.7,351.2 C333.6,354.4 331.3,360.2 330.5,364.5 C329.7,368.8 329.8,373.7 331.0,376.9 C332.2,380.1 335.3,382.5 337.6,383.6 C339.9,384.7 343.8,383.5 345.0,383.5"/>
<path class="m" d="M352.9,356.0 C351.6,356.8 346.9,358.6 345.2,360.7 C343.4,362.8 342.5,365.8 342.4,368.3 C342.2,370.9 343.2,374.4 344.3,376.0 C345.4,377.6 348.2,377.6 349.0,377.9"/>
<path class="t" d="M352.9,342.6 L352.9,356.0"/>
<path class="t" d="M360.5,337.9 L361.4,353.1"/>
<path class="t" d="M349.0,341.0 C347.7,341.6 343.5,342.8 341.0,344.5 C338.5,346.2 335.2,349.9 334.0,351.0"/>
</svg>
<div class="txt" style="left:27px;top:1099px;font-size:22px;">TORQUE : Nm (kgf.m, lb-ft)</div>
<div class="txt reg" style="left:15.5px;top:1146px;font-size:19.4px;">1. Trailing arm</div>
<div class="txt" style="left:446.5px;top:907px;font-size:18.5px;line-height:24px;letter-spacing:0.65px;">137.3 ~ 156.9<br>(14 ~ 16, 101.3 ~ 115.7)</div>
<div class="txt" style="left:738.5px;top:778px;font-size:18.5px;line-height:23.5px;letter-spacing:0.65px;">44.1 ~ 53.9<br>(4.5 ~ 5.5,<br>32.5 ~ 39.8)</div>
<div class="txt reg" style="left:495.5px;top:816.5px;font-size:20px;">1</div>
</body></html>
